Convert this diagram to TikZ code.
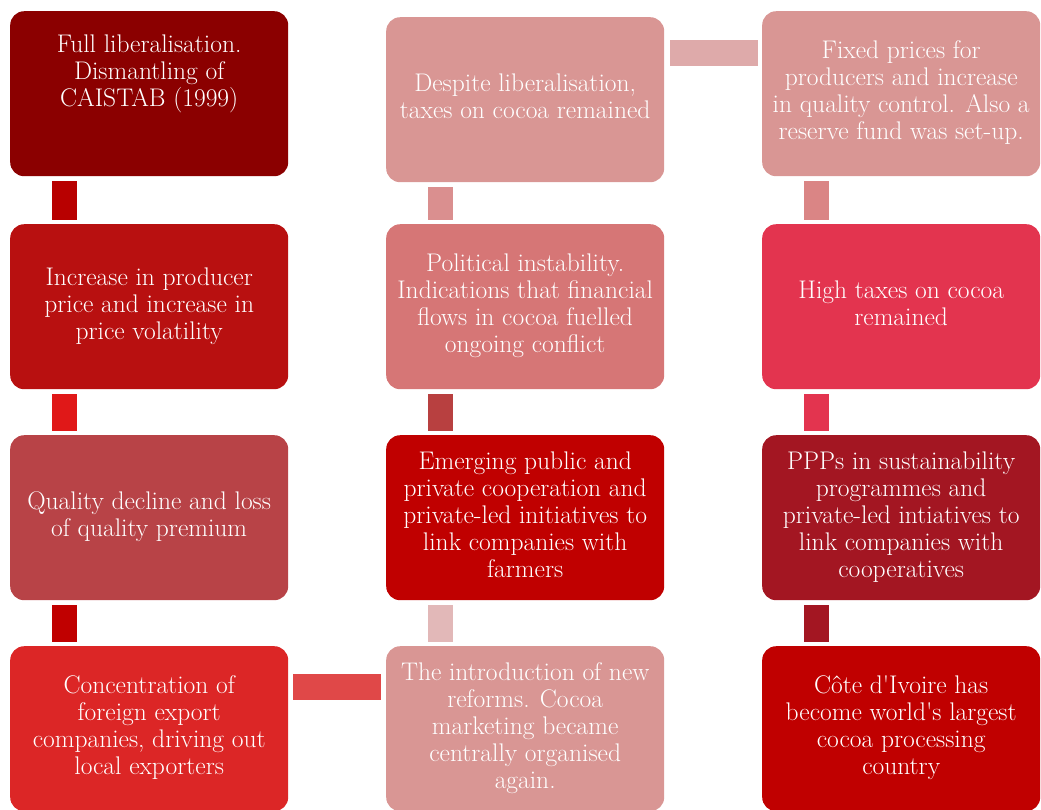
\documentclass[tikz,border=0pt]{standalone}
\usepackage{fontspec}
\usepackage{tikz}
\usetikzlibrary{positioning,matrix}
\definecolor{cdark}{RGB}{139,0,0}
\definecolor{cred}{RGB}{184,16,16}
\definecolor{cbrick}{RGB}{184,67,71}
\definecolor{cbright}{RGB}{220,38,38}
\definecolor{crose}{RGB}{217,150,148}
\definecolor{csalmon}{RGB}{214,118,118}
\definecolor{ccrimson}{RGB}{192,0,0}
\definecolor{cpink}{RGB}{227,52,79}
\definecolor{cwine}{RGB}{163,22,34}
\definecolor{barA}{RGB}{184,0,0}
\definecolor{barB}{RGB}{224,24,24}
\definecolor{barC}{RGB}{224,72,72}
\definecolor{barD}{RGB}{226,184,184}
\definecolor{barE}{RGB}{184,64,64}
\definecolor{barF}{RGB}{218,143,143}
\definecolor{barG}{RGB}{222,170,170}
\definecolor{barH}{RGB}{218,133,133}
\newcommand{\lines}[1]{\begin{tabular}{@{}c@{}}#1\end{tabular}}

\begin{document}
\begin{tikzpicture}[x=1pt,y=1pt,
			font=\fontsize{25.5}{27}\selectfont,
			flow/.style={matrix of nodes,inner sep=0pt,nodes={rounded corners=14pt, minimum width=278pt, minimum height=165pt, text=white, inner sep=0pt},column sep=98pt, row sep=46pt}]
			
			\useasboundingbox (0,0) rectangle (1041,-809);
			\matrix[flow, anchor=north west] (flow) at (10,-11) {
				|[fill=cdark]| \lines{Full liberalisation.\\Dismantling of\\CAISTAB (1999)\\[12pt]\mbox{}} &
				|[fill=crose, yshift=-6pt]| \lines{Despite liberalisation,\\taxes on cocoa remained} &
				|[fill=crose]| \lines{Fixed prices for\\producers and increase\\in quality control. Also a\\reserve fund was set-up.}\\[-4pt]
				|[fill=cred]| \lines{Increase in producer\\price and increase in\\price volatility} &
				|[fill=csalmon]| \lines{Political instability.\\Indications that financial\\flows in cocoa fuelled\\ongoing conflict} &
				|[fill=cpink]| \lines{High taxes on cocoa\\remained}\\
				|[fill=cbrick]| \lines{Quality decline and loss\\of quality premium} &
				|[fill=ccrimson]| \lines{Emerging public and\\private cooperation and\\private-led initiatives to\\link companies with\\farmers} &
				|[fill=cwine]| \lines{PPPs in sustainability\\programmes and\\private-led intiatives to\\link companies with\\cooperatives}\\
				|[fill=cbright]| \lines{Concentration of\\foreign export\\companies, driving out\\local exporters} &
				|[fill=crose]| \lines{The introduction of new\\reforms. Cocoa\\marketing became\\centrally organised\\again.} &
				|[fill=ccrimson]| \lines{Côte d\textquotesingle Ivoire has\\become world\textquotesingle s largest\\cocoa processing\\country}\\
			};
			
			% vertical links
			\foreach \c/\r/\s/\col in {1/1/2/barA, 1/2/3/barB, 1/3/4/ccrimson, 2/3/4/barD, 2/2/3/barE, 2/1/2/barF, 3/1/2/barH, 3/2/3/cpink, 3/3/4/cwine}
			\fill[\col] ([xshift=42pt,yshift=-5pt]flow-\r-\c.south west) rectangle ([xshift=67pt,yshift=4pt]flow-\s-\c.north west);
			
			% horizontal links
			\fill[barC] ([xshift=5pt,yshift=-28pt]flow-4-1.north east) rectangle ([xshift=-5pt,yshift=-54pt]flow-4-2.north west);
			\fill[barG] ([xshift=6pt,yshift=-23pt]flow-1-2.north east) rectangle ([xshift=-4pt,yshift=-55pt]flow-1-3.north west);
		\end{tikzpicture}
\end{document}
